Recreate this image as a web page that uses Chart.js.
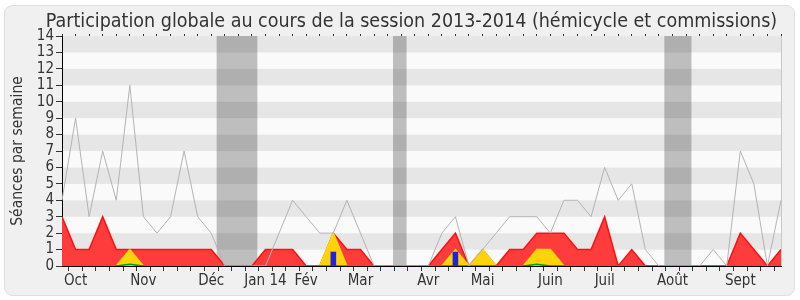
<!DOCTYPE html>
<html>
<head>
<meta charset="utf-8">
<script src="https://cdn.jsdelivr.net/npm/chart.js@4/dist/chart.umd.min.js"></script>
<style>
  html, body { margin: 0; padding: 0; background: #fff; }
</style>
</head>
<body>
<canvas id="chart" width="800" height="300"></canvas>
<script>
const FONT = "'DejaVu Sans Condensed', 'DejaVu Sans', sans-serif";

// semaines de la session (index 0..53)
const weeks = Array.from({length: 54}, (_, i) => i);
const monthIdx = [1, 6, 11, 15, 18, 22, 27, 31, 36, 40, 45, 50];
const monthNames = ['Oct', 'Nov', 'Déc', 'Jan 14', 'Fév', 'Mar', 'Avr', 'Mai', 'Juin', 'Juil', 'Août', 'Sept'];

// vacances parlementaires (en semaines)
const vacStart = [11.4, 24.4, 44.4];
const vacEnd = [14.4, 25.4, 46.4];

// séances par semaine
const grayLine = [4, 9, 3, 7, 4, 11, 3, 2, 3, 7, 3, 2, 0, 0, 0, 0, 2, 4, 3, 2, 2, 4, 2, 0, 0, 0, 0, 0,
                  2, 3, 0, 1, 2, 3, 3, 3, 2, 4, 4, 3, 6, 4, 5, 1, 0, 0, 0, 0, 1, 0, 7, 5, 0, 4];
const redArea = [3, 1, 1, 3, 1, 1, 1, 1, 1, 1, 1, 1, 0, 0, 0, 1, 1, 1, 0, 0, 2, 1, 1, 0, 0, 0, 0, 0,
                 1, 2, 0, 1, 0, 1, 1, 2, 2, 2, 1, 1, 3, 0, 1, 0, 0, 0, 0, 0, 0, 0, 2, 1, 0, 1];
const yellowArea = [0, 0, 0, 0, 0, 1, 0, 0, 0, 0, 0, 0, 0, 0, 0, 0, 0, 0, 0, 0, 2, 0, 0, 0, 0, 0, 0, 0,
                    0, 1, 0, 1, 0, 0, 0, 1, 1, 0, 0, 0, 0, 0, 0, 0, 0, 0, 0, 0, 0, 0, 0, 0, 0, 0];
const greenLine = [0, 0, 0, 0, 0, 0.1, 0, 0, 0, 0, 0, 0, 0, 0, 0, 0, 0, 0, 0, 0, 0, 0, 0, 0, 0, 0, 0, 0,
                   0, 0, 0, 0, 0, 0, 0, 0.1, 0, 0, 0, 0, 0, 0, 0, 0, 0, 0, 0, 0, 0, 0, 0, 0, 0, 0];
const blueWeeks = [20, 29];
const blueValues = [0.85, 0.85];

const titleText = 'Participation globale au cours de la session 2013-2014 (hémicycle et commissions)';

const pts = arr => arr.map((v, i) => ({x: weeks[i], y: v}));

const backdrop = {
  id: 'backdrop',
  beforeDraw(chart) {
    const {ctx, chartArea: a, scales} = chart;
    ctx.save();
    ctx.fillStyle = '#fff';
    ctx.fillRect(0, 0, chart.width, chart.height);
    ctx.beginPath();
    ctx.roundRect(4.5, 5.5, 790, 290, 8);
    ctx.fillStyle = '#f0f0f0';
    ctx.fill();
    ctx.strokeStyle = '#dedede';
    ctx.lineWidth = 1;
    ctx.stroke();
    // bandes horizontales
    for (let v = 0; v < 14; v++) {
      const y1 = scales.y.getPixelForValue(v + 1), y0 = scales.y.getPixelForValue(v);
      ctx.fillStyle = v % 2 ? '#e6e6e6' : '#fafafa';
      ctx.fillRect(a.left, y1, a.right - a.left, y0 - y1);
    }
    // vacances
    ctx.fillStyle = 'rgba(0,0,0,0.24)';
    vacStart.forEach((s, i) => {
      const x0 = scales.x.getPixelForValue(s), x1 = scales.x.getPixelForValue(vacEnd[i]);
      ctx.fillRect(x0, a.top, x1 - x0, a.bottom - a.top);
    });
    // cadre droit
    ctx.strokeStyle = '#c8c8c8';
    ctx.beginPath();
    ctx.moveTo(a.right + 0.5, a.top);
    ctx.lineTo(a.right + 0.5, a.bottom);
    ctx.stroke();
    // titre
    ctx.fillStyle = '#333';
    ctx.font = '19.5px ' + FONT;
    ctx.textAlign = 'center';
    ctx.textBaseline = 'alphabetic';
    ctx.fillText(titleText, 411.5, 27);
    ctx.restore();
  }
};

new Chart(document.getElementById('chart'), {
  type: 'line',
  data: {
    datasets: [
      {data: pts(grayLine), borderColor: '#b4b4b4', borderWidth: 1, pointRadius: 0, fill: false, order: 0},
      {type: 'bar', data: blueWeeks.map((w, i) => ({x: w, y: blueValues[i]})), backgroundColor: '#2222dd',
       barThickness: 5, order: 1},
      {data: pts(greenLine), borderColor: '#00a000', borderWidth: 1.5, pointRadius: 0, fill: false, order: 2},
      {data: pts(yellowArea), borderColor: '#ffdc00', backgroundColor: '#ffd20a', borderWidth: 1.5,
       pointRadius: 0, fill: 'origin', order: 3},
      {data: pts(redArea), borderColor: '#ff1010', backgroundColor: '#ff3c3c', borderWidth: 1.5,
       pointRadius: 0, fill: 'origin', order: 4}
    ]
  },
  options: {
    responsive: false,
    animation: false,
    devicePixelRatio: 1,
    layout: {padding: {left: 0, right: 19, top: 32, bottom: 0}},
    plugins: {legend: {display: false}, tooltip: {enabled: false}, title: {display: false}},
    elements: {line: {tension: 0}},
    scales: {
      x: {
        type: 'linear', position: 'bottom', min: 0, max: 53, offset: false,
        afterFit: s => { s.height = 34; },
        grid: {drawOnChartArea: false, tickLength: 5, color: '#333'},
        border: {display: true, color: '#000', width: 1},
        ticks: {
          stepSize: 1, autoSkip: false, maxRotation: 0, maxTicksLimit: 100, padding: 1,
          color: '#333', font: {family: FONT, size: 15},
          callback: v => { const k = monthIdx.indexOf(v); return k >= 0 ? monthNames[k] : ''; }
        }
      },
      x2: {
        type: 'linear', position: 'top', min: 0, max: 53, offset: false,
        afterFit: s => { s.height = 4; },
        grid: {drawOnChartArea: false, tickLength: 2, color: '#333'},
        border: {display: false},
        ticks: {stepSize: 1, autoSkip: false, maxTicksLimit: 100, display: false}
      },
      y: {
        min: 0, max: 14,
        afterFit: s => { s.width = 62; },
        grid: {drawOnChartArea: false, tickLength: 6, color: '#333'},
        border: {display: true, color: '#000', width: 1},
        ticks: {stepSize: 1, autoSkip: false, padding: 2, color: '#333', font: {family: FONT, size: 15}},
        title: {display: true, text: 'Séances par semaine', color: '#333',
                font: {family: FONT, size: 15.5}, padding: {top: 9, bottom: 0}}
      }
    }
  },
  plugins: [backdrop]
});
</script>
</body>
</html>
